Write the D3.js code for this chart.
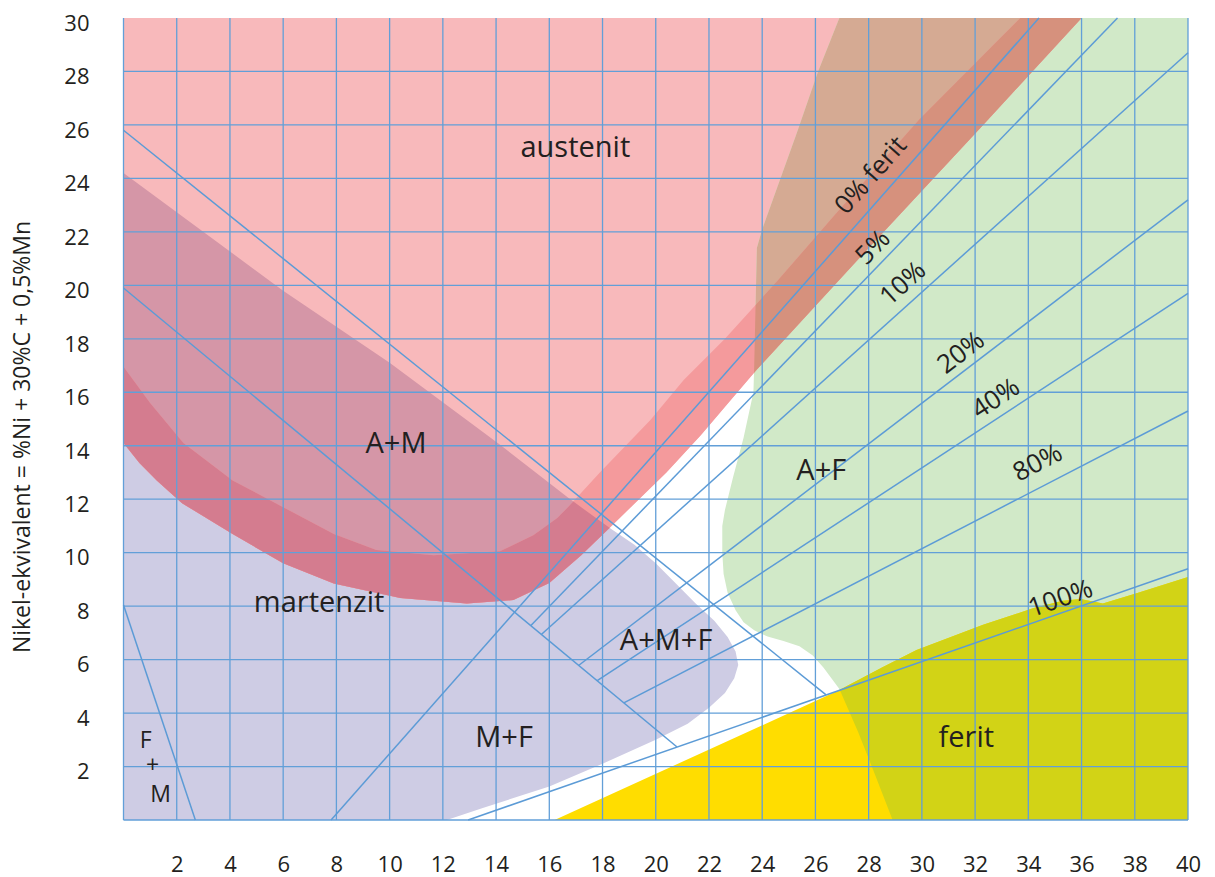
<!DOCTYPE html>
<html><head><meta charset="utf-8">
<script src="https://cdn.jsdelivr.net/npm/d3@7"></script>
<style>
body{margin:0;background:#fff}
text{font-family:"Open Sans",sans-serif;fill:#231f20}
</style>
</head><body>
<svg id="chart" width="1215" height="877"></svg>
<script>
// ---------- data (Cr-equivalent x, Ni-equivalent y) ----------
const xTickLabels = [2,4,6,8,10,12,14,16,18,20,22,24,26,28,30,32,34,36,38,40];
const yTickLabels = [2,4,6,8,10,12,14,16,18,20,22,24,26,28,30];
const xGrid = [0,2,4,6,8,10,12,14,16,18,20,22,24,26,28,30,32,34,36,38,40];
const yGrid = [0,2,4,6,8,10,12,14,16,18,20,22,24,26,28];
const yTitle = "Nikel-ekvivalent = %Ni + 30%C + 0,5%Mn";

// martensite region
const martensite = [[0,0],[12.15,0],[13.5,0.45],[16,1.25],[18,2.1],[20,3.0],[21.2,3.6],[22,4.2],[22.6,4.75],[22.95,5.3],[23.1,5.8],[23.0,6.3],[22.7,6.85],[22.2,7.45],[21.5,8.1],[20.7,8.9],[20.0,9.6],[19.2,10.3],[18.3,10.9],[16.7,12.06],[14.2,14.0],[10,17.1],[6,19.8],[0,24.2]];
// lower boundary of austenite (left to right)
const austeniteLower = [[0,14.1],[0.6,13.35],[1.25,12.7],[2.2,11.85],[4.1,10.7],[6.0,9.6],[7.9,8.85],[10.4,8.3],[12.9,8.1],[14.65,8.23],[16,8.87],[17.2,9.9],[18.3,10.96],[20.4,13.0],[21.7,14.4],[22.9,15.8],[23.8,16.85],[28.0,21.4],[32.3,26.0],[36,30]];
// upper boundary of the transition band (left to right)
const bandUpper = [[0,16.95],[1.0,15.6],[2.25,14.1],[4.1,12.7],[6.0,11.7],[7.9,10.7],[9.5,10.1],[11.65,9.9],[14.15,10.05],[15.4,10.65],[16.3,11.3],[16.7,11.7],[17.9,13.0],[19.8,14.96],[21.05,16.46],[22.6,18.0],[24.6,20.2],[26.7,22.6],[29.9,26.2],[33.7,30]];
// left boundary of the austenite+ferrite region (top to bottom)
const afEdge = [[26.9,30],[26.1,28.0],[25.3,25.7],[24.0,22.1],[23.8,21.4],[23.7,17.0],[23.67,16.0],[23.3,14.3],[22.9,12.8],[22.6,11.6],[22.5,11.0],[22.5,10.0],[22.55,9.2],[22.7,8.5],[23.0,7.85],[23.3,7.4],[23.7,7.1],[24.2,6.86],[24.8,6.7],[25.4,6.5],[25.9,6.15],[26.3,5.7],[26.9,4.9],[27.6,3.3],[28.2,1.8],[28.9,0]];
// upper boundary of the ferrite region (left to right)
const ferriteTop = [[16.2,0],[26.9,4.86],[28.5,5.7],[29.8,6.36],[32.3,7.3],[34.2,7.93],[35.3,8.2],[35.96,8.27],[36.8,8.1],[38.1,8.49],[40,9.09]];

// straight boundary / iso-ferrite lines
const lineA = [[0,25.8],[26.4,4.68]];
const lineB = [[0,19.9],[20.8,2.73]];
const lineFM = [[0,8.04],[2.7,0]];
const line0 = [[7.8,0],[34.4,30]];
const line5 = [[15.3,7.27],[37.35,30]];
const line10 = [[15.7,6.94],[40,28.7]];
const line20 = [[17.1,5.78],[40,23.2]];
const line40 = [[17.8,5.21],[40,19.7]];
const line80 = [[18.8,4.38],[40,15.3]];
const line100 = [[12.95,0],[40,9.4]];

// region labels: [text, x, y(baseline), size]
const regionLabels = [
  ["austenit",16.98,24.8,29],["A+M",10.24,13.73,29],["martenzit",7.35,7.78,29],
  ["A+M+F",20.39,6.36,29],["M+F",14.3,2.73,29],["A+F",26.22,12.72,29],["ferit",31.67,2.73,29],
  ["F",0.83,2.69,23],["+",1.09,1.74,23],["M",1.39,0.67,23]
];
// line labels: [text, x, y(center), line]
const lineLabels = [
  ["0% ferit",28.06,24.13,line0],["5%",28.14,21.44,line5],["10%",29.27,20.09,line10],
  ["20%",31.45,17.51,line20],["40%",32.76,15.79,line40],["80%",34.34,13.39,line80],["100%",35.2,8.31,line100]
];

// ---------- drawing ----------
const svg = d3.select("#chart");
const x = d3.scaleLinear().domain([0,40]).range([123.5,1188]);
const y = d3.scaleLinear().domain([0,30]).range([820,18]);
const poly = d3.line().x(d=>x(d[0])).y(d=>y(d[1])).curve(d3.curveLinearClosed);
const seg = d3.line().x(d=>x(d[0])).y(d=>y(d[1]));

const lav = martensite;
const aus = [...austeniteLower, [0,30]];
const band = [...bandUpper, ...austeniteLower.slice().reverse()];
const green = [...afEdge, [40,0],[40,30]];
const yellow = [...ferriteTop, [40,0]];

const defs = svg.append("defs");
function clip(id, pts){ defs.append("clipPath").attr("id",id).append("path").attr("d",poly(pts)); }
clip("clipLav", lav); clip("clipGreen", green);

const g = svg.append("g");
function fill(pts,color,clipId){
  const p = g.append("path").attr("d",poly(pts)).attr("fill",color);
  if(clipId) p.attr("clip-path",`url(#${clipId})`);
}
fill(lav,"#cecce4");
fill(aus,"#f8b9bb");
fill(aus,"#d596a7","clipLav");
fill(green,"#d1e9c8");
fill(aus,"#d5aa93","clipGreen");
fill(band,"#f49a9c");
fill(band,"#d47c8f","clipLav");
fill(band,"#d6917d","clipGreen");
fill(yellow,"#ffdd00");
fill(yellow,"#d2d316","clipGreen");

// grid
const gridColor = "#629fd8";
svg.append("g").selectAll("line").data(xGrid).join("line")
  .attr("x1",d=>x(d)).attr("x2",d=>x(d)).attr("y1",y(0)).attr("y2",y(30))
  .attr("stroke",gridColor).attr("stroke-width",1.3);
svg.append("g").selectAll("line").data(yGrid).join("line")
  .attr("x1",x(0)).attr("x2",x(40)).attr("y1",d=>y(d)).attr("y2",d=>y(d))
  .attr("stroke",gridColor).attr("stroke-width",1.3);

// diagonal lines
const allLines = [lineA,lineB,lineFM,line0,line5,line10,line20,line40,line80,line100];
svg.append("g").selectAll("path").data(allLines).join("path")
  .attr("d",seg).attr("fill","none").attr("stroke","#5c9bd6").attr("stroke-width",1.5);

// axes
const xAxis = svg.append("g").attr("transform",`translate(0,${y(0)})`)
  .call(d3.axisBottom(x).tickValues(xTickLabels).tickSize(0).tickFormat(d=>d));
xAxis.select(".domain").remove();
xAxis.selectAll("text").attr("y",44).attr("dy","0.35em")
  .style("font-size","22px").style("font-family","'Open Sans',sans-serif").attr("fill","#231f20");
const yAxis = svg.append("g").attr("transform",`translate(${x(0)},0)`)
  .call(d3.axisLeft(y).tickValues(yTickLabels).tickSize(0).tickFormat(d=>d));
yAxis.select(".domain").remove();
yAxis.selectAll("text").attr("x",-34).attr("dy","0.56em")
  .style("font-size","22px").style("font-family","'Open Sans',sans-serif").attr("fill","#231f20");

svg.append("text").attr("transform",`translate(30,437) rotate(-90)`)
  .attr("text-anchor","middle").style("font-size","23px").text(yTitle);

// region labels
svg.append("g").selectAll("text").data(regionLabels).join("text")
  .attr("x",d=>x(d[1])).attr("y",d=>y(d[2])).attr("text-anchor","middle")
  .style("font-size",d=>d[3]+"px").text(d=>d[0]);

// line labels
svg.append("g").selectAll("text").data(lineLabels).join("text")
  .attr("transform",d=>{
    const l=d[3];
    const a=Math.atan2(y(l[1][1])-y(l[0][1]), x(l[1][0])-x(l[0][0]))*180/Math.PI;
    return `translate(${x(d[1])},${y(d[2])}) rotate(${a})`;
  })
  .attr("text-anchor","middle").attr("dy","0.35em").style("font-size","26px").text(d=>d[0]);
</script>
</body></html>
